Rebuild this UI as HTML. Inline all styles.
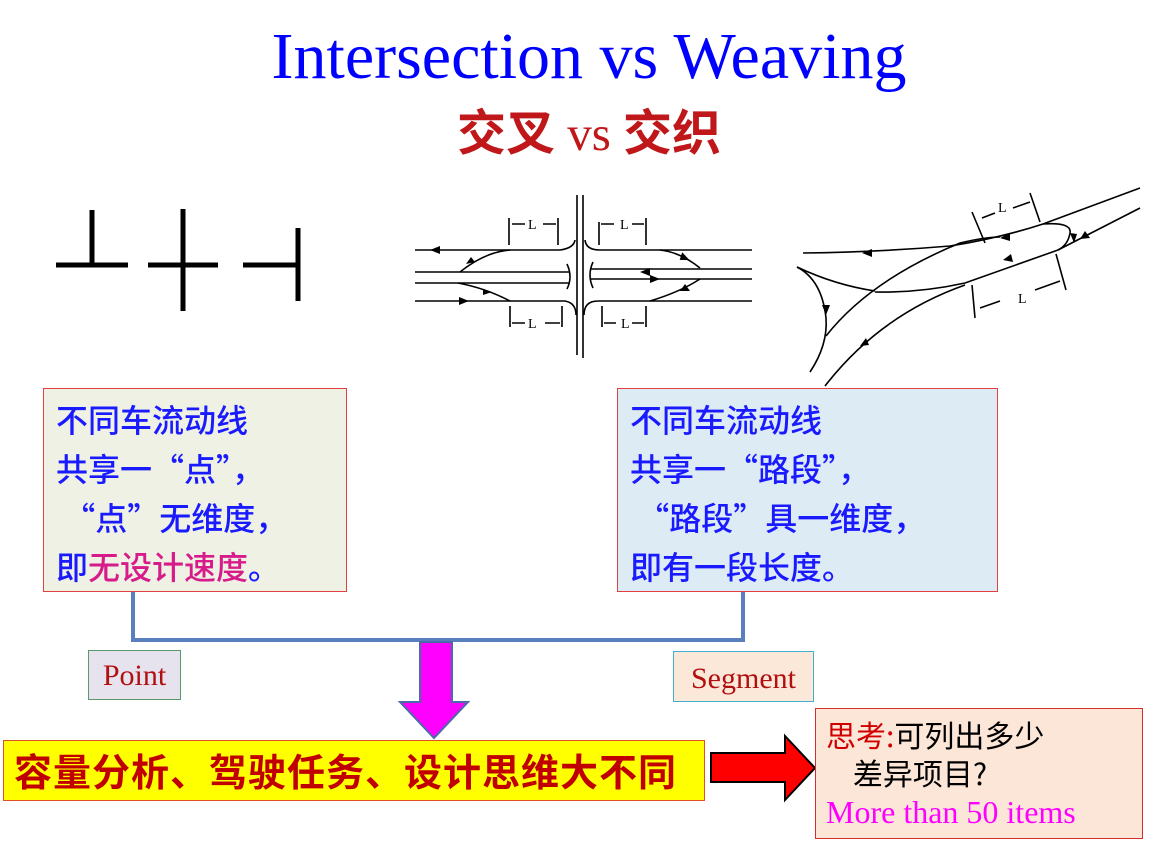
<!DOCTYPE html>
<html><head><meta charset="utf-8"><style>
body{margin:0;width:1172px;height:854px;background:#fff;position:relative;overflow:hidden;font-family:"Liberation Sans","Noto Sans CJK SC",sans-serif}
.a{position:absolute}
.t1{left:0;width:1178px;top:19px;text-align:center;font:66px "Liberation Serif","Noto Serif CJK SC",serif;color:#0000ff}
.t2{left:0;width:1178px;top:94px;text-align:center;font:49px "Liberation Serif","Noto Sans CJK SC",serif;color:#c0181a;font-weight:bold}
.box{box-sizing:border-box;border:1.5px solid #e04040;font-size:32px;line-height:49px;color:#1a1aff;padding:6px 0 0 12px;font-family:"Noto Sans CJK SC",sans-serif;font-weight:500}
</style></head><body>
<div class="a t1">Intersection vs Weaving</div>
<div class="a t2">交叉 <span style="font-weight:normal;font-family:'Liberation Serif',serif">vs</span> 交织</div>

<svg class="a" style="left:0;top:0" width="1172" height="854">
<g stroke="#000" stroke-width="5" fill="none">
<path d="M56 265H128M92 210V265"/>
<path d="M148 265H218M183 209V311"/>
<path d="M243 265H298M298 228V301"/>
</g>
<g stroke="#000" stroke-width="1.6" fill="none">
<path d="M415 250H560Q574 248 575 240"/><path d="M585 240Q586 250 600 250H752"/>
<path d="M415 301H565Q576 303 576 315"/><path d="M584 315Q584 301 598 301H752"/>
<path d="M415 272H570"/><path d="M415 283H570"/>
<path d="M590 269H752"/><path d="M590 279H752"/>
<path d="M577 195V355M583 195V358"/>
<path d="M567 264Q573 277 567 289M593 262Q587 275 593 288"/>
<path d="M510 250Q485 252 460 272"/><path d="M458 283Q485 288 510 301"/>
<path d="M660 250Q680 252 700 268"/><path d="M700 279Q680 292 650 301"/>
<path d="M509 218V245M558 218V245M599 222V245M646 218V245M510 306V327M562 306V327M602 306V327M646 306V327"/>
<path d="M512 224H525M543 224H556M601 224H614M632 224H644M512 323H525M545 323H560M604 323H616M632 323H644"/>
<path d="M1140 188L1043 224Q1000 238 950 246Q880 252 803 253"/>
<path d="M1043 224Q1072 222 1070 233Q1068 245 1058 250L965 283Q920 293 875 292"/>
<path d="M1058 250L1140 208"/>
<path d="M797 267Q835 285 875 291"/>
<path d="M797 267Q822 280 826 318Q828 345 810 372"/>
<path d="M826 336Q870 280 960 243Q985 237 1000 237"/>
<path d="M825 386Q880 315 965 285"/>
<path d="M972 212L985 243M1030 193L1040 222M972 285L975 318M1056 254L1066 290"/>
<path d="M982 218L995 213M1013 208L1030 202M980 308L1000 301M1035 290L1060 281"/>
</g>
<g fill="#000">
<path d="M430 250l10-4v8z"/><path d="M475 262l-9 2 5 -7z"/><path d="M483 289l9 3-9 3z"/><path d="M469 301l-10-4v8z"/>
<path d="M680 254l10 4-9 4z" transform="rotate(25 685 258)"/><path d="M640 272l10-4v8z"/><path d="M660 279l-10-4v8z"/><path d="M690 291l-10 0 5-7z"/>
<path d="M862 253l10-4v8z"/><path d="M1000 238l10-5v8z"/><path d="M1013 262l-10-2 8-6z"/><path d="M1090 238l-10 1 5-8z"/><path d="M1074 243l-4-10 7 1z"/><path d="M826 315l-4-10h8z"/><path d="M866 338l-6 8 9-1z"/>
</g>
<g font-family="Liberation Serif,serif" font-size="14" fill="#000">
<text x="528" y="229">L</text><text x="620" y="229">L</text><text x="528" y="328">L</text><text x="621" y="328">L</text>
<text x="998" y="212">L</text><text x="1018" y="303">L</text>
</g>
<path d="M133 591V640H743V591" stroke="#5b7fbe" stroke-width="4" fill="none"/>
<path d="M420 642H452V702H468L434 738L400 702H420Z" fill="#ff00ff" stroke="#4a6aa8" stroke-width="2"/>
<path d="M711 753H785V736L815 768L785 800V782H711Z" fill="#ff0000" stroke="#000" stroke-width="2"/>
</svg>

<div class="a box" style="left:43px;top:388px;width:304px;height:204px;background:#eef1e3">不同车流动线<br>共享一“点”，<br>&nbsp;“点”无维度，<br>即<span style="color:#d81b8a">无设计速度</span>。</div>
<div class="a box" style="left:617px;top:388px;width:381px;height:204px;background:#ddebf5">不同车流动线<br>共享一“路段”，<br>&nbsp;“路段”具一维度，<br>即有一段长度。</div>

<div class="a" style="left:88px;top:650px;width:93px;height:50px;box-sizing:border-box;border:1px solid #5a9a6a;background:#e6e2ee;color:#b01010;font:30px 'Liberation Serif',serif;text-align:center;line-height:50px">Point</div>
<div class="a" style="left:673px;top:651px;width:141px;height:51px;box-sizing:border-box;border:1px solid #40b0d0;background:#fce8d8;color:#b01010;font:30px 'Liberation Serif',serif;text-align:center;line-height:54px">Segment</div>

<div class="a" style="left:3px;top:740px;width:702px;height:61px;box-sizing:border-box;border:1.5px solid #e05020;background:#ffff00;color:#c00000;font-size:38px;line-height:58px;padding-left:10px;font-family:'Noto Sans CJK SC',sans-serif;font-weight:bold;letter-spacing:1px;white-space:nowrap">容量分析、驾驶任务、设计思维大不同</div>

<div class="a" style="left:815px;top:708px;width:328px;height:131px;box-sizing:border-box;border:1.5px solid #d03030;background:#fce6d8;font-size:30px;line-height:38px;padding:6px 0 0 10px;color:#000;font-family:'Noto Sans CJK SC',sans-serif;white-space:nowrap"><span style="color:#d00000">思考:</span>可列出多少<br>&nbsp;&nbsp;&nbsp;&nbsp;差异项目?<br><span style="color:#ff00ff;font:32px 'Liberation Serif',serif">More than 50 items</span></div>
</body></html>
